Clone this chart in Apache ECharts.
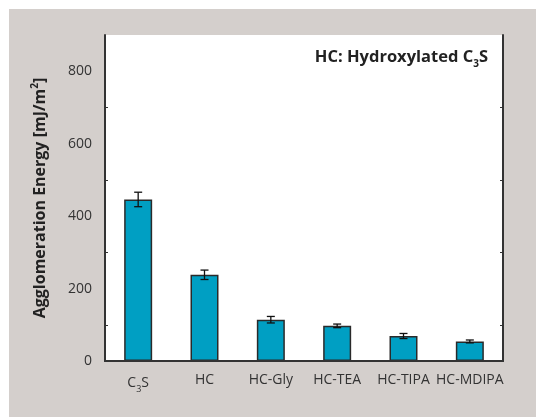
<!DOCTYPE html>
<html>
<head>
<meta charset="utf-8">
<script src="https://cdn.jsdelivr.net/npm/echarts@6/dist/echarts.min.js"></script>
<style>
  html, body { margin: 0; padding: 0; background: #fff; }
  #chart { width: 536px; height: 418px; }
</style>
</head>
<body>
<div id="chart"></div>
<script>
const categories = ['C3S', 'HC', 'HC-Gly', 'HC-TEA', 'HC-TIPA', 'HC-MDIPA']
const energy = [446, 238, 114, 97, 69, 54]
const errors = [20, 13, 9, 5, 7, 4]
const yTicks = [0, 200, 400, 600, 800]

const FONT = '"Open Sans", "Noto Sans", sans-serif'
const chart = echarts.init(document.getElementById('chart'))

function catLabel(v) {
    return v === 'C3S' ? 'C{sub|3}S' : v
}

const option = {
    animation: false,
    textStyle: {fontFamily: FONT},
    graphic: [
        {type: 'rect', z: -10, shape: {x: 9, y: 9, width: 527, height: 408}, style: {fill: '#d4cfcc'}},
        {
            type: 'text', right: 536 - 488, top: 49, z: 10,
            style: {
                text: 'HC: Hydroxylated C{sub|3}S',
                font: 'bold 16.5px ' + FONT,
                fill: '#222',
                rich: {sub: {fontSize: 10, fontWeight: 'bold', padding: [14, 0, 0, 0], fontFamily: FONT}}
            }
        }
    ],
    grid: {left: 105, right: 33, top: 35, bottom: 57, show: true, backgroundColor: '#fff', borderWidth: 0},
    xAxis: [
        {
            type: 'category',
            data: categories,
            z: 5,
            axisLine: {lineStyle: {color: '#333', width: 2}},
            axisTick: {inside: true, alignWithLabel: true, length: 4, lineStyle: {color: '#333'}},
            axisLabel: {
                interval: 0,
                color: '#333', fontSize: 14, margin: 12, fontFamily: FONT,
                formatter: catLabel,
                rich: {sub: {fontSize: 9, padding: [12, 0, 0, 0], color: '#333'}}
            }
        },
        {
            type: 'category',
            data: categories,
            position: 'top',
            axisLine: {lineStyle: {color: '#333', width: 2}},
            axisTick: {inside: true, alignWithLabel: true, length: 3, lineStyle: {color: '#666'}},
            axisLabel: {show: false}
        }
    ],
    yAxis: [
        {
            type: 'value',
            min: 0, max: 900, interval: 200,
            z: 5,
            name: 'Agglomeration Energy [mJ/m{sup|2}]',
            nameLocation: 'middle',
            nameGap: 55,
            nameTextStyle: {
                fontSize: 16, fontWeight: 'bold', color: '#222', fontFamily: FONT,
                rich: {sup: {fontSize: 10, fontWeight: 'bold', padding: [0, 0, 10, 0]}}
            },
            axisLine: {show: true, lineStyle: {color: '#333', width: 2}},
            axisTick: {inside: true, length: 6, lineStyle: {color: '#333', width: 1.5}},
            minorTick: {show: true, splitNumber: 2, length: 3, lineStyle: {color: '#333'}},
            splitLine: {show: false},
            axisLabel: {
                color: '#333', fontSize: 14, margin: 13, fontFamily: FONT,
                formatter: v => yTicks.includes(v) ? String(v) : ''
            }
        },
        {
            type: 'value',
            min: 0, max: 900, interval: 200,
            position: 'right',
            z: 5,
            axisLine: {show: true, lineStyle: {color: '#333', width: 2}},
            axisTick: {inside: true, length: 6, lineStyle: {color: '#333', width: 1.5}},
            minorTick: {show: true, splitNumber: 2, length: 3, lineStyle: {color: '#333'}},
            splitLine: {show: false},
            axisLabel: {show: false}
        }
    ],
    series: [
        {
            type: 'bar',
            data: energy,
            barWidth: 28,
            itemStyle: {color: '#009fc3', borderColor: '#2a2a2a', borderWidth: 1.5},
            z: 2
        },
        {
            type: 'custom',
            z: 6,
            data: categories.map((c, i) => [i, energy[i] - errors[i], energy[i] + errors[i]]),
            renderItem: function(params, api) {
                const lo = api.coord([api.value(0), api.value(1)])
                const hi = api.coord([api.value(0), api.value(2)])
                const x = lo[0], w = 4
                const style = {stroke: '#111', lineWidth: 1.3}
                return {
                    type: 'group',
                    children: [
                        {type: 'line', shape: {x1: x, y1: lo[1], x2: x, y2: hi[1]}, style},
                        {type: 'line', shape: {x1: x - w, y1: lo[1], x2: x + w, y2: lo[1]}, style},
                        {type: 'line', shape: {x1: x - w, y1: hi[1], x2: x + w, y2: hi[1]}, style}
                    ]
                }
            }
        }
    ]
}
chart.setOption(option)
</script>
</body>
</html>
